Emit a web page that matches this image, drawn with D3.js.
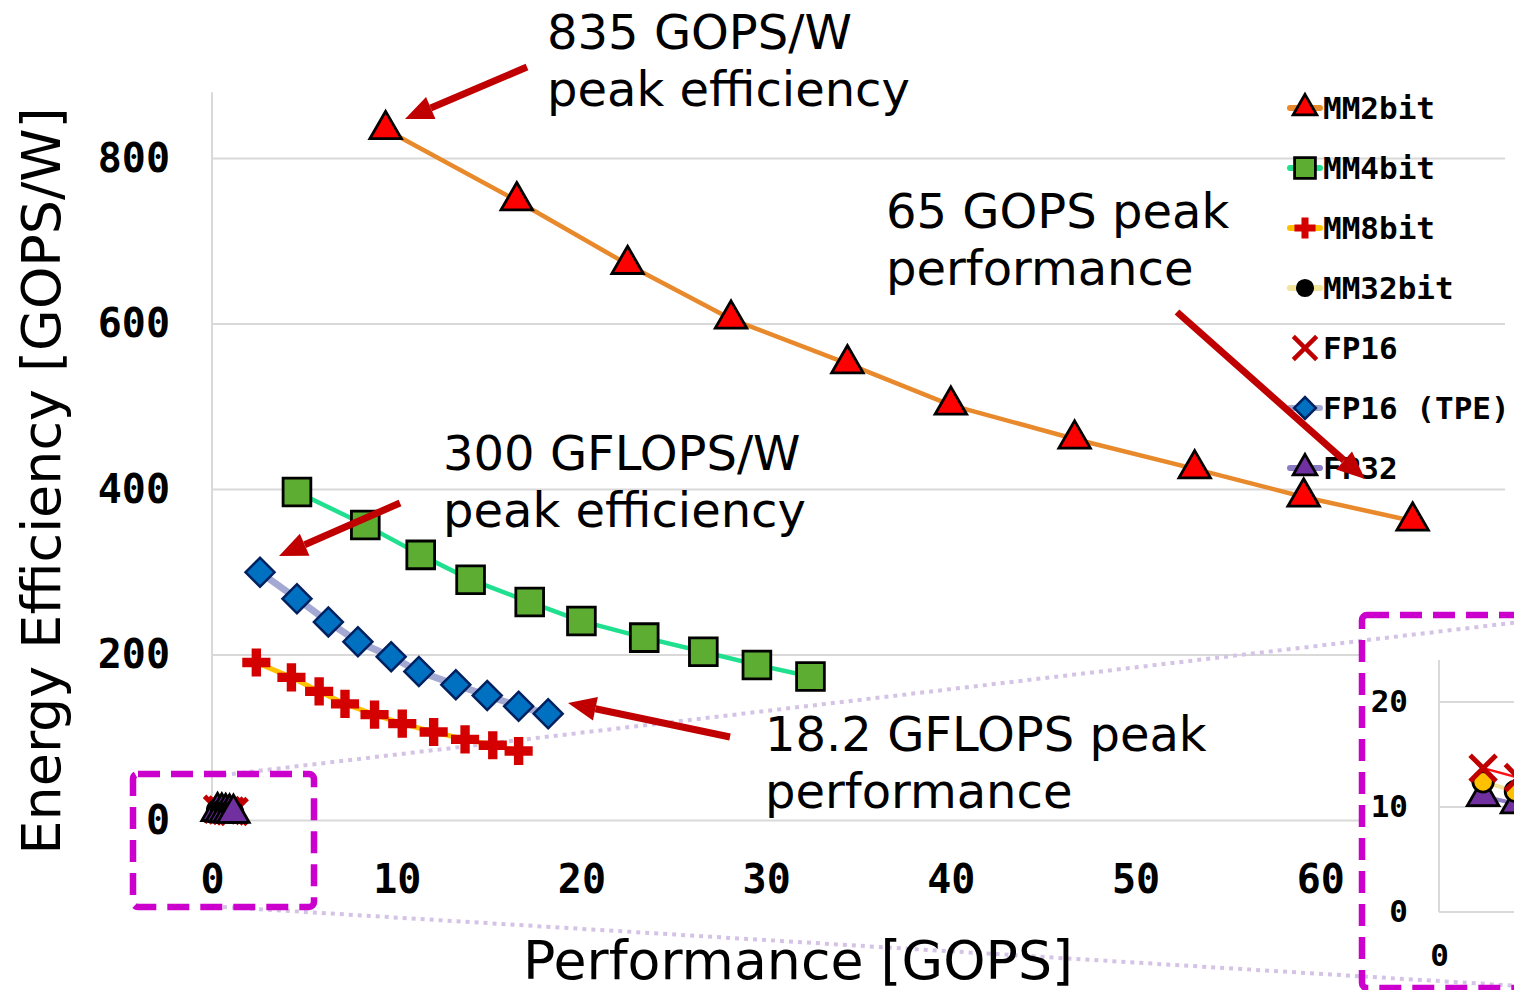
<!DOCTYPE html>
<html><head><meta charset="utf-8">
<script src="https://cdn.jsdelivr.net/npm/d3@7"></script>
<style>
html,body{margin:0;padding:0;background:#fff;}
svg{display:block;}
</style></head><body>
<svg id="chart" width="1514" height="990"></svg>
<script>
// Performance (GOPS) and energy efficiency (GOPS/W) for each configuration
const mm2bitPerf  = [9.4, 16.5, 22.5, 28.1, 34.4, 40.0, 46.7, 53.2, 59.1, 65.0];
const mm2bitEff   = [835, 749, 672, 606, 552, 502, 461, 425, 391, 362];
const mm4bitPerf  = [4.6, 8.3, 11.3, 14.0, 17.2, 20.0, 23.4, 26.6, 29.5, 32.4];
const mm4bitEff   = [397, 357, 321, 291, 264, 241, 221, 204, 188, 174];
const mm8bitPerf  = [2.4, 4.3, 5.8, 7.2, 8.8, 10.3, 12.0, 13.7, 15.2, 16.6];
const mm8bitEff   = [191, 173, 156, 141, 128, 117, 107, 98, 91, 84];
const mm32bitPerf = [0.30, 0.52, 0.73, 0.93, 1.12];
const mm32bitEff  = [12.4, 11.5, 10.8, 10.2, 9.7];
const fp16Perf    = [0.30, 0.54, 0.77, 0.99, 1.20];
const fp16Eff     = [13.7, 12.8, 12.1, 11.5, 11.0];
const fp16TpePerf = [2.6, 4.6, 6.3, 7.9, 9.7, 11.2, 13.2, 14.9, 16.6, 18.2];
const fp16TpeEff  = [300, 268, 240, 216, 198, 180, 164, 151, 138, 129];
const fp32Perf    = [0.30, 0.53, 0.74, 0.95, 1.16];
const fp32Eff     = [11.0, 10.3, 9.7, 9.2, 8.8];

const seriesNames = ["MM2bit", "MM4bit", "MM8bit", "MM32bit", "FP16", "FP16 (TPE)", "FP32"];
const xTicks = [0, 10, 20, 30, 40, 50, 60];
const yTicks = [0, 200, 400, 600, 800];
const insetXTicks = [0];
const insetYTicks = [0, 10, 20];

const annotationLines = [
  ["835 GOPS/W", "peak efficiency"],
  ["65 GOPS peak", "performance"],
  ["300 GFLOPS/W", "peak efficiency"],
  ["18.2 GFLOPS peak", "performance"]
];

// ---- styling per series ----
const styles = {
  "MM2bit":     {line: "#E8892B", lw: 4.5, marker: "triangle", fill: "#FF0000", stroke: "#000", size: 430},
  "MM4bit":     {line: "#1FE08F", lw: 4.5, marker: "square",   fill: "#5DAD33", stroke: "#000", size: 770},
  "MM8bit":     {line: "#FFC000", lw: 5,   marker: "plus",     fill: "#D40000", stroke: "none", size: 440},
  "MM32bit":    {line: "#F2E49A", lw: 4,   marker: "circle",   fill: "#000000", stroke: "#000", size: 330},
  "FP16":       {line: "#FF1010", lw: 2.5, marker: "x",        fill: "none",    stroke: "#C00000", size: 26},
  "FP16 (TPE)": {line: "#A4A9D4", lw: 7,   marker: "diamond",  fill: "#0070C0", stroke: "#002060", size: 420},
  "FP32":       {line: "#8C7CC8", lw: 4,   marker: "triangle", fill: "#7030A0", stroke: "#000", size: 430}
};

const data = {
  "MM2bit": d3.zip(mm2bitPerf, mm2bitEff),
  "MM4bit": d3.zip(mm4bitPerf, mm4bitEff),
  "MM8bit": d3.zip(mm8bitPerf, mm8bitEff),
  "MM32bit": d3.zip(mm32bitPerf, mm32bitEff),
  "FP16": d3.zip(fp16Perf, fp16Eff),
  "FP16 (TPE)": d3.zip(fp16TpePerf, fp16TpeEff),
  "FP32": d3.zip(fp32Perf, fp32Eff)
};

const svg = d3.select("#chart");
const W = 1514, H = 990;
svg.append("rect").attr("width", W).attr("height", H).attr("fill", "#fff");

const x = d3.scaleLinear().domain([0, 70]).range([212, 1505]);
const y = d3.scaleLinear().domain([0, 880]).range([820.5, 92.3]);

const gridColor = "#D9D9D9";
const tickFont = "'DejaVu Sans Mono', monospace";
const textFont = "'DejaVu Sans', Verdana, sans-serif";

function drawMarker(g, type, st, scale) {
  if (type === "x") {
    const hh = st.size * scale / 2;
    g.append("path")
      .attr("d", `M${-hh},${-hh}L${hh},${hh}M${-hh},${hh}L${hh},${-hh}`)
      .attr("stroke", st.stroke).attr("stroke-width", 5 * Math.max(scale, 0.8)).attr("fill", "none");
    return;
  }
  const sym = {
    triangle: d3.symbolTriangle, square: d3.symbolSquare, plus: d3.symbolCross,
    circle: d3.symbolCircle, diamond: d3.symbolSquare
  }[type];
  const p = g.append("path")
    .attr("d", d3.symbol(sym, st.size * scale * scale)())
    .attr("fill", st.fill)
    .attr("stroke", st.stroke)
    .attr("stroke-width", type === "diamond" ? 2.5 : 2.8)
    .attr("stroke-linejoin", "miter");
  if (type === "diamond") p.attr("transform", "rotate(45)");
}

function drawLines(root, xs, ys, names, st) {
  const line = d3.line().x(d => xs(d[0])).y(d => ys(d[1]));
  names.forEach(n => {
    root.append("path").datum(data[n])
      .attr("d", line).attr("fill", "none")
      .attr("stroke", st[n].line).attr("stroke-width", st[n].lw)
      .attr("stroke-linejoin", "round");
  });
}
function drawMarkers(root, xs, ys, names, st) {
  names.forEach(n => {
    root.selectAll(null).data(data[n]).enter().append("g")
      .attr("transform", d => `translate(${xs(d[0])},${ys(d[1])})`)
      .each(function () { drawMarker(d3.select(this), st[n].marker, st[n], 1); });
  });
}

// ---- main plot: grid and axes ----
const main = svg.append("g");
main.append("g").selectAll("line").data(yTicks).enter().append("line")
  .attr("x1", x(0)).attr("x2", x(70))
  .attr("y1", d => y(d)).attr("y2", d => y(d))
  .attr("stroke", gridColor).attr("stroke-width", 2);
main.append("line")
  .attr("x1", x(0)).attr("x2", x(0)).attr("y1", y(880)).attr("y2", y(0))
  .attr("stroke", gridColor).attr("stroke-width", 2);

const yAxis = main.append("g").attr("transform", `translate(${x(0)},0)`)
  .call(d3.axisLeft(y).tickValues(yTicks).tickSize(0).tickPadding(42).tickFormat(d3.format("d")));
const xAxis = main.append("g").attr("transform", `translate(0,${y(0)})`)
  .call(d3.axisBottom(x).tickValues(xTicks).tickSize(0).tickPadding(44).tickFormat(d3.format("d")));
[yAxis, xAxis].forEach(a => {
  a.select(".domain").remove();
  a.selectAll("text").attr("font-family", tickFont).attr("font-weight", "bold")
    .attr("font-size", 40).attr("fill", "#000");
});

// ---- inset: zoom on the low-performance corner ----
const insetClip = svg.append("defs").append("clipPath").attr("id", "insetClip");
insetClip.append("rect").attr("x", 1359).attr("y", 614).attr("width", 200).attr("height", 380);
const inset = svg.append("g").attr("clip-path", "url(#insetClip)");
inset.append("rect").attr("x", 1359).attr("y", 614).attr("width", 200).attr("height", 380).attr("fill", "#fff");
const ix = d3.scaleLinear().domain([0, 2]).range([1439, 1733]);
const iy = d3.scaleLinear().domain([0, 24]).range([912, 660]);
inset.append("g").selectAll("line").data(insetYTicks).enter().append("line")
  .attr("x1", ix(0)).attr("x2", ix(2)).attr("y1", d => iy(d)).attr("y2", d => iy(d))
  .attr("stroke", gridColor).attr("stroke-width", 2);
inset.append("line").attr("x1", ix(0)).attr("x2", ix(0)).attr("y1", iy(24)).attr("y2", iy(0))
  .attr("stroke", gridColor).attr("stroke-width", 2);
const iyAxis = inset.append("g").attr("transform", `translate(${ix(0)},0)`)
  .call(d3.axisLeft(iy).tickValues(insetYTicks).tickSize(0).tickPadding(31).tickFormat(d3.format("d")));
const ixAxis = inset.append("g").attr("transform", `translate(0,${iy(0)})`)
  .call(d3.axisBottom(ix).tickValues(insetXTicks).tickSize(0).tickPadding(32).tickFormat(d3.format("d")));
[iyAxis, ixAxis].forEach(a => {
  a.select(".domain").remove();
  a.selectAll("text").attr("font-family", tickFont).attr("font-weight", "bold")
    .attr("font-size", 31).attr("fill", "#000");
});
const insetStyles = Object.assign({}, styles, {
  "MM32bit": Object.assign({}, styles["MM32bit"], {fill: "#FFC000"})
});
drawLines(inset, ix, iy, ["MM32bit", "FP32", "FP16"], insetStyles);
drawMarkers(inset, ix, iy, ["FP32", "MM32bit", "FP16"], insetStyles);

// ---- zoom guides ----
const guide = svg.append("g").attr("stroke", "#D5C3E6").attr("stroke-width", 4)
  .attr("stroke-dasharray", "4 5").attr("fill", "none");
guide.append("line").attr("x1", 223).attr("y1", 775).attr("x2", 1520).attr("y2", 622);
guide.append("line").attr("x1", 223).attr("y1", 907).attr("x2", 1520).attr("y2", 986);

// ---- series ----
const plot = main.append("g");
svg.node().appendChild(plot.node());
drawLines(plot, x, y, ["MM2bit", "MM4bit", "MM8bit", "FP16 (TPE)", "FP16", "MM32bit", "FP32"], styles);
drawMarkers(plot, x, y, ["MM2bit", "MM4bit", "MM8bit", "FP16 (TPE)", "FP16"], styles);
// clustered low-performance points: stacked left to right
const cluster = [
  ...data["MM32bit"].map(d => ({d, n: "MM32bit"})),
  ...data["FP32"].map(d => ({d, n: "FP32"}))
].sort((a, b) => a.d[0] - b.d[0]);
plot.selectAll(null).data(cluster).enter().append("g")
  .attr("transform", c => `translate(${x(c.d[0])},${y(c.d[1])})`)
  .each(function (c) { drawMarker(d3.select(this), styles[c.n].marker, styles[c.n], 1); });

// ---- axis titles ----
svg.append("text")
  .attr("transform", "translate(60,481) rotate(-90)")
  .attr("text-anchor", "middle").attr("font-family", textFont).attr("font-size", 53)
  .attr("textLength", 747).attr("lengthAdjust", "spacingAndGlyphs")
  .text("Energy Efficiency [GOPS/W]");
svg.append("text")
  .attr("x", 798).attr("y", 979)
  .attr("text-anchor", "middle").attr("font-family", textFont).attr("font-size", 53)
  .attr("textLength", 550).attr("lengthAdjust", "spacingAndGlyphs")
  .text("Performance [GOPS]");

// ---- legend ----
const legend = svg.append("g");
seriesNames.forEach((n, i) => {
  const g = legend.append("g").attr("transform", `translate(1305,${108 + i * 60})`);
  const st = styles[n];
  if (st.marker !== "x") {
    g.append("line").attr("x1", -15).attr("x2", 15)
      .attr("stroke", st.line).attr("stroke-width", 6).attr("stroke-linecap", "round");
  }
  drawMarker(g, st.marker, st, st.marker === "x" ? 0.9 : 0.75);
  g.append("text").attr("x", 18).attr("dy", "0.35em")
    .attr("font-family", tickFont).attr("font-weight", "bold").attr("font-size", 31)
    .attr("fill", "#000").text(n);
});

// ---- dashed zoom boxes ----
const boxes = svg.append("g").attr("stroke", "#CC00CC").attr("stroke-width", 6.5)
  .attr("stroke-dasharray", "22 11").attr("fill", "none");
boxes.append("rect").attr("x", 133).attr("y", 774).attr("width", 181).attr("height", 133).attr("rx", 5);
boxes.append("rect").attr("x", 1362).attr("y", 615).attr("width", 300).attr("height", 373).attr("rx", 5);

// ---- annotations ----
const annot = svg.append("g").attr("font-family", textFont).attr("font-size", 48).attr("fill", "#000");
const annotPos = [[547, 49], [886, 228], [443, 470], [765, 751]];
annotationLines.forEach((lines, i) => {
  lines.forEach((t, j) => {
    annot.append("text").attr("x", annotPos[i][0]).attr("y", annotPos[i][1] + j * 57).text(t);
  });
});

const arrowColor = "#C00000";
function arrow(x1, y1, x2, y2) {
  const ang = Math.atan2(y2 - y1, x2 - x1);
  const hl = 28, hw = 12;
  const bx = x2 - hl * Math.cos(ang), by = y2 - hl * Math.sin(ang);
  svg.append("line").attr("x1", x1).attr("y1", y1).attr("x2", bx).attr("y2", by)
    .attr("stroke", arrowColor).attr("stroke-width", 7);
  const px = -Math.sin(ang) * hw, py = Math.cos(ang) * hw;
  svg.append("path")
    .attr("d", `M${x2},${y2}L${bx + px},${by + py}L${bx - px},${by - py}Z`)
    .attr("fill", arrowColor);
}
arrow(527, 67, 405, 119);
arrow(1177, 312, 1365, 479);
arrow(400, 503, 279, 556);
arrow(730, 737, 568, 703);
</script>
</body></html>
